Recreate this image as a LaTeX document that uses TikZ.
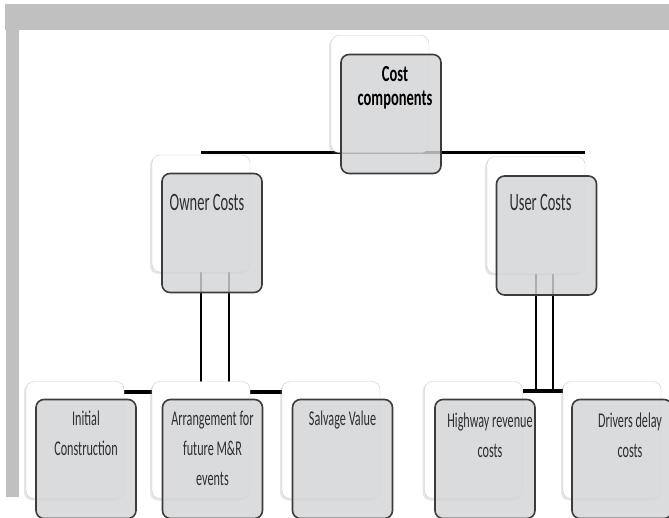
\documentclass[tikz,border=0pt]{standalone}
\usepackage{fontspec}
\usepackage{tikz}
\usepackage{xcolor}
\usetikzlibrary{positioning, backgrounds, shadows}
\setmainfont{Carlito}
\newfontfamily\boxfont[FakeStretch=0.58]{Carlito}
\newfontfamily\headfont[FakeStretch=0.63]{Carlito}
\definecolor{framegray}{HTML}{C0C0C0}
\definecolor{backline}{HTML}{CDCDCD}
\definecolor{frontline}{HTML}{3C3C3C}
\definecolor{frontfill}{HTML}{D3D4D6}
\definecolor{textgray}{HTML}{2E2E2E}

\begin{document}
\begin{tikzpicture}[x=1pt, y=-1pt,
    back/.style={draw=backline, fill=white, rounded corners=8pt, minimum width=98pt, minimum height=117pt, inner sep=0pt,
        drop shadow={shadow xshift=-2pt, shadow yshift=-2pt, opacity=0.2}},
    front/.style={draw=frontline, line width=1.6pt, fill=frontfill, fill opacity=0.82, rounded corners=8pt,
        minimum width=100pt, minimum height=119pt, inner sep=0pt},
    head/.style={font=\headfont\bfseries\fontsize{23}{24}\selectfont, align=center, inner sep=0pt},
    big/.style={text=textgray, font=\boxfont\fontsize{25}{30}\selectfont, align=center, inner sep=0pt},
    small/.style={text=textgray, font=\boxfont\fontsize{21}{30}\selectfont, align=center, inner sep=0pt},
    bus/.style={line width=3.5pt},
    stem/.style={line width=2.6pt}]
    \useasboundingbox (0,0) rectangle (669,518);

    % back boxes
    \node[back] (costB) at (380,94) {};
    \node[back] (ownB) at (201,213.5) {};
    \node[back] (userB) at (536,215) {};
    \node[back] (iniB) at (75,440) {};
    \node[back] (arrB) at (201,440) {};
    \node[back] (salB) at (331,440) {};
    \node[back] (hwyB) at (473.5,440) {};
    \node[back] (drvB) at (612,440) {};

    % front boxes
    \node[front] (costF) at (391,114) {};
    \node[front] (ownF) at (212,233) {};
    \node[front] (userF) at (546.5,235.5) {};
    \node[front] (iniF) at (86,459) {};
    \node[front] (arrF) at (212.5,459) {};
    \node[front] (salF) at (342.5,459) {};
    \node[front] (hwyF) at (485,459) {};
    \node[front] (drvF) at (622,459) {};

    % texts
    \node[head, below=13pt of costF.north, xshift=4pt] (costT) {Cost\\components};
    \node[big, below=21.5pt of ownF.north, xshift=-5pt] (ownT) {Owner Costs};
    \node[big, below=18.5pt of userF.north, xshift=-6pt] (userT) {User Costs};
    \node[small, below=12pt of iniF.north] (iniT) {Initial\\Construction};
    \node[small, below=12pt of arrF.north] (arrT) {Arrangement for\\future M\&R\\events};
    \node[small, below=12pt of salF.north] (salT) {Salvage Value};
    \node[small, below=14pt of hwyF.north, xshift=5pt] (hwyT) {Highway revenue\\costs};
    \node[small, below=14pt of drvF.north, xshift=8pt] (drvT) {Drivers delay\\costs};

    \coordinate (ownbus) at (201,392);
    \coordinate (usrbus) at (545,391);

    \begin{pgfonlayer}{background}
        % frame
        \fill[framegray] (5,4) rectangle (669,30);
        \fill[framegray] (6,30) rectangle (19,497);
        % connectors
        \draw[bus] (ownB.north |- costB.south) -- (userB.north east |- costB.south);
        \draw[stem] (ownB.south) -- (ownB.south |- ownbus);
        \draw[stem] ([xshift=28pt]ownB.south) -- ([xshift=28pt]ownB.south |- ownbus);
        \draw[bus] (iniB.east |- ownbus) -- (salB.west |- ownbus);
        \draw[stem] (userB.south) -- (userB.south |- usrbus);
        \draw[stem] ([xshift=17pt]userB.south) -- ([xshift=17pt]userB.south |- usrbus);
        \draw[bus] (hwyB.east |- usrbus) -- (drvB.west |- usrbus);
    \end{pgfonlayer}
\end{tikzpicture}
\end{document}
